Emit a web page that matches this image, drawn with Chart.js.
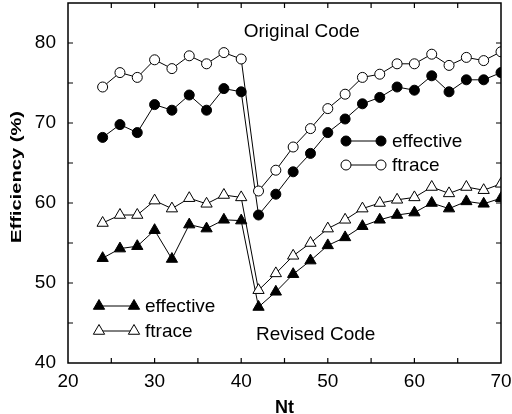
<!DOCTYPE html>
<html>
<head>
<meta charset="utf-8">
<script src="https://cdn.jsdelivr.net/npm/chart.js@4"></script>
<style>
  body { margin: 0; background: #fff; }
  canvas { display: block; }
</style>
</head>
<body>
<canvas id="grafico" width="512" height="414"></canvas>
<script>
// valores
const nt = [24, 26, 28, 30, 32, 34, 36, 38, 40, 42, 44, 46, 48, 50, 52, 54, 56, 58, 60, 62, 64, 66, 68, 70];
const origEffective = [68.2, 69.8, 68.8, 72.3, 71.6, 73.5, 71.6, 74.3, 73.9, 58.5, 61.1, 63.9, 66.2, 68.8, 70.5, 72.4, 73.2, 74.5, 74.1, 75.9, 73.9, 75.4, 75.4, 76.3];
const origFtrace = [74.5, 76.3, 75.7, 77.9, 76.8, 78.4, 77.4, 78.8, 78.0, 61.5, 64.1, 67.0, 69.3, 71.8, 73.6, 75.7, 76.1, 77.4, 77.4, 78.6, 77.2, 78.2, 77.8, 78.9];
const revEffective = [53.1, 54.3, 54.6, 56.6, 53.0, 57.3, 56.8, 57.9, 57.8, 47.0, 48.9, 51.1, 52.8, 54.7, 55.7, 57.1, 57.9, 58.5, 58.8, 60.0, 59.3, 60.2, 59.9, 60.6];
const revFtrace = [57.5, 58.5, 58.5, 60.3, 59.3, 60.6, 59.9, 61.0, 60.7, 49.1, 51.2, 53.4, 55.0, 56.8, 57.9, 59.3, 60.0, 60.4, 60.7, 62.0, 61.2, 62.0, 61.6, 62.4];
const xTicks = [20, 30, 40, 50, 60, 70];
const yTicks = [40, 50, 60, 70, 80];

const FONT = 'Liberation Sans, Arial, Helvetica, sans-serif';

const pts = vals => vals.map((v, i) => ({ x: nt[i], y: v }));

const serie = (vals, style, filled, r) => ({
  data: pts(vals),
  borderColor: '#000',
  borderWidth: 1,
  pointStyle: style,
  pointRadius: r,
  pointBackgroundColor: filled ? '#000' : '#fff',
  pointBorderColor: '#000',
  pointBorderWidth: 1,
  fill: false,
  tension: 0
});

// marco, ticks hacia adentro, leyendas y textos
const extras = {
  id: 'extras',
  afterDatasetsDraw(chart) {
    const { ctx, chartArea: a, scales: { x, y } } = chart;
    ctx.save();
    ctx.strokeStyle = '#000';
    ctx.lineWidth = 1.5;
    ctx.strokeRect(a.left, a.top, a.right - a.left, a.bottom - a.top);
    ctx.lineWidth = 1.2;
    ctx.beginPath();
    for (let v = 25; v < 70; v += 5) {
      const px = x.getPixelForValue(v);
      ctx.moveTo(px, a.bottom); ctx.lineTo(px, a.bottom - 5);
      ctx.moveTo(px, a.top); ctx.lineTo(px, a.top + 5);
    }
    for (let v = 45; v < 85; v += 5) {
      const py = y.getPixelForValue(v);
      ctx.moveTo(a.left, py); ctx.lineTo(a.left + 5, py);
      ctx.moveTo(a.right, py); ctx.lineTo(a.right - 5, py);
    }
    ctx.stroke();

    // leyendas
    const item = (x1, x2, yy, style, filled, r, label) => {
      ctx.lineWidth = 1;
      ctx.strokeStyle = '#000';
      ctx.beginPath(); ctx.moveTo(x1, yy); ctx.lineTo(x2, yy); ctx.stroke();
      [x1, x2].forEach(px => {
        ctx.fillStyle = filled ? '#000' : '#fff';
        Chart.helpers.drawPoint(ctx, { pointStyle: style, radius: r, rotation: 0, borderWidth: 1 }, px, yy);
      });
      ctx.fillStyle = '#000';
      ctx.font = '19px ' + FONT;
      ctx.textAlign = 'left';
      ctx.textBaseline = 'middle';
      ctx.fillText(label, x2 + 11, yy + 1);
    };
    item(346, 381, 141, 'circle', true, 5, 'effective');
    item(346, 381, 165, 'circle', false, 5, 'ftrace');
    item(99, 134, 306, 'triangle', true, 6.5, 'effective');
    item(99, 134, 331, 'triangle', false, 6.5, 'ftrace');

    ctx.fillStyle = '#000';
    ctx.font = '19px ' + FONT;
    ctx.textAlign = 'center';
    ctx.textBaseline = 'middle';
    ctx.fillText('Original Code', x.getPixelForValue(47), y.getPixelForValue(81.4));
    ctx.fillText('Revised Code', x.getPixelForValue(48.6), y.getPixelForValue(43.5));

    // titulos de ejes
    ctx.font = 'bold 18px ' + FONT;
    ctx.textBaseline = 'alphabetic';
    ctx.fillText('Nt', (a.left + a.right) / 2, 413);

    ctx.font = 'bold 15px ' + FONT;
    const w = ctx.measureText('Efficiency (%)').width;
    ctx.translate(17, 177);
    ctx.rotate(-Math.PI / 2);
    ctx.scale(132 / w, 1);
    ctx.textBaseline = 'middle';
    ctx.fillText('Efficiency (%)', 0, 0);
    ctx.restore();
  }
};

new Chart(document.getElementById('grafico'), {
  type: 'line',
  data: {
    datasets: [
      serie(origFtrace, 'circle', false, 5),
      serie(origEffective, 'circle', true, 5),
      serie(revFtrace, 'triangle', false, 6.5),
      serie(revEffective, 'triangle', true, 6.5)
    ]
  },
  options: {
    responsive: false,
    animation: false,
    layout: { autoPadding: false, padding: { top: 3, right: 11, left: 0, bottom: 0 } },
    plugins: { legend: { display: false }, tooltip: { enabled: false } },
    scales: {
      x: {
        type: 'linear',
        min: 20,
        max: 70,
        afterBuildTicks: s => { s.ticks = xTicks.map(v => ({ value: v })); },
        afterFit: s => { s.height = 51; s.paddingLeft = 0; s.paddingRight = 0; },
        grid: { drawOnChartArea: false, drawTicks: false },
        border: { display: false },
        ticks: { color: '#000', padding: 7, font: { family: FONT, size: 19 } }
      },
      y: {
        min: 40,
        max: 85,
        afterBuildTicks: s => { s.ticks = yTicks.map(v => ({ value: v })); },
        afterFit: s => { s.width = 68; s.paddingTop = 0; s.paddingBottom = 0; },
        grid: { drawOnChartArea: false, drawTicks: false },
        border: { display: false },
        ticks: { color: '#000', padding: 12, font: { family: FONT, size: 19 } }
      }
    }
  },
  plugins: [extras]
});
</script>
</body>
</html>
